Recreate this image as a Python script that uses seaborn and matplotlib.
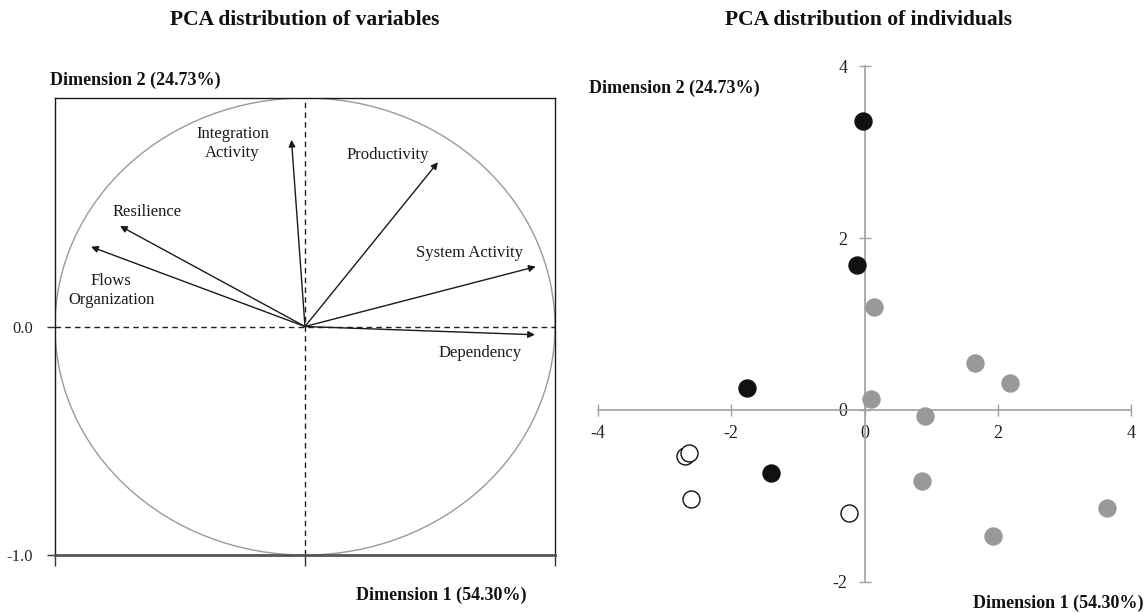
import numpy as np
import pandas as pd
import matplotlib
matplotlib.use("Agg")
import matplotlib.pyplot as plt
from matplotlib.patches import Circle
import seaborn as sns

# variable loadings (dimension 1, dimension 2)
var_names = ["Integration\nActivity", "Productivity", "Resilience",
             "Flows\nOrganization", "System Activity", "Dependency"]
var_dim1 = [-0.054, 0.532, -0.740, -0.856, 0.923, 0.920]
var_dim2 = [0.817, 0.719, 0.440, 0.349, 0.262, -0.036]

# individuals scores by group
black_x = [-0.02, -0.12, -1.76, -1.40]
black_y = [3.36, 1.69, 0.26, -0.73]
gray_x = [0.15, 1.66, 2.19, 0.10, 0.91, 0.87, 3.64, 1.93]
gray_y = [1.20, 0.55, 0.31, 0.13, -0.07, -0.82, -1.14, -1.47]
white_x = [-2.69, -2.63, -2.60, -0.24]
white_y = [-0.54, -0.50, -1.04, -1.20]

dim1_label = "Dimension 1 (54.30%)"
dim2_label = "Dimension 2 (24.73%)"

# where the arrow labels sit (layout only)
label_xy = [(-0.29, 0.80), (0.33, 0.75), (-0.63, 0.50),
            (-0.775, 0.156), (0.66, 0.32), (0.70, -0.116)]

sns.set_theme(style="white")
plt.rcParams['font.family'] = ['Liberation Serif', 'DejaVu Serif']
plt.rcParams['axes.unicode_minus'] = False

fig = plt.figure(figsize=(11.48, 6.13), dpi=100)

# ---------------- left: variables ----------------
ax1 = fig.add_axes([0.0479, 0.0946, 0.4355, 0.7455])
ax1.set_xlim(-1, 1)
ax1.set_ylim(-1, 1)
ax1.add_patch(Circle((0, 0), 1, fill=False, color="#9a9a9a", lw=1))
ax1.axhline(0, color="#222222", lw=1, ls=(0, (4, 3)))
ax1.axvline(0, color="#222222", lw=1, ls=(0, (4, 3)))
for name, x, y, (lx, ly) in zip(var_names, var_dim1, var_dim2, label_xy):
    ax1.annotate("", xy=(x, y), xytext=(0, 0),
                 arrowprops=dict(arrowstyle="-|>", color="#1a1a1a", lw=1,
                                 mutation_scale=10, shrinkA=0, shrinkB=0))
    ax1.text(lx, ly, name, ha="center", va="center", fontsize=12,
             color="#1a1a1a", linespacing=1.25)
for side in ["left", "top", "right"]:
    ax1.spines[side].set_color("#1a1a1a")
    ax1.spines[side].set_linewidth(1)
ax1.spines["bottom"].set_color("#555555")
ax1.spines["bottom"].set_linewidth(2)
ax1.set_xticks([-1, 0, 1])
ax1.set_xticklabels([])
ax1.set_yticks([-1, 0])
ax1.set_yticklabels(["-1.0", "0.0"])
ax1.tick_params(axis="x", direction="out", length=8, width=1, color="#333333",
                bottom=True)
ax1.tick_params(axis="y", direction="out", length=6, width=1, color="#333333",
                left=True, labelsize=12, pad=10)
ax1.set_xlabel("")
ax1.set_ylabel("")

# ---------------- right: individuals ----------------
ax2 = fig.add_axes([0.5209, 0.0506, 0.4643, 0.8417])
groups = [(black_x, black_y, "#111111", "#111111"),
          (gray_x, gray_y, "#999999", "#999999"),
          (white_x, white_y, "white", "#111111")]
for gx, gy, face, edge in groups:
    df = pd.DataFrame({"dim1": gx, "dim2": gy})
    sns.scatterplot(data=df, x="dim1", y="dim2", ax=ax2, s=150,
                    color=face, edgecolor=edge, linewidth=1, zorder=3)
ax2.set_xlim(-4, 4)
ax2.set_ylim(-2, 4)
ax2.spines["left"].set_position(("data", 0))
ax2.spines["bottom"].set_position(("data", 0))
ax2.spines["top"].set_visible(False)
ax2.spines["right"].set_visible(False)
for side in ["left", "bottom"]:
    ax2.spines[side].set_color("#a0a0a0")
    ax2.spines[side].set_linewidth(1.2)
ax2.set_xticks([-4, -2, 0, 2, 4])
ax2.set_yticks([-2, 0, 2, 4])
ax2.tick_params(axis="both", direction="inout", length=9, width=1,
                color="#a0a0a0", labelsize=13, labelcolor="#222222",
                bottom=True, left=True)
ax2.tick_params(axis="x", pad=6)
ax2.tick_params(axis="y", pad=8)
ax2.set_xlabel("")
ax2.set_ylabel("")

# ---------------- titles and axis names ----------------
fig.text(0.2657, 0.9674, "PCA distribution of variables", ha="center",
         va="center", fontsize=15.5, fontweight="bold", color="#111111")
fig.text(0.7561, 0.9674, "PCA distribution of individuals", ha="center",
         va="center", fontsize=15.5, fontweight="bold", color="#111111")
fig.text(0.0436, 0.8695, dim2_label, ha="left", va="center", fontsize=13,
         fontweight="bold", color="#111111")
fig.text(0.384, 0.0294, dim1_label, ha="center", va="center", fontsize=13,
         fontweight="bold", color="#111111")
fig.text(0.513, 0.8564, dim2_label, ha="left", va="center", fontsize=13,
         fontweight="bold", color="#111111")
fig.text(0.9965, 0.0163, dim1_label, ha="right", va="center", fontsize=13,
         fontweight="bold", color="#111111")

fig.savefig("out.png", dpi=100)
